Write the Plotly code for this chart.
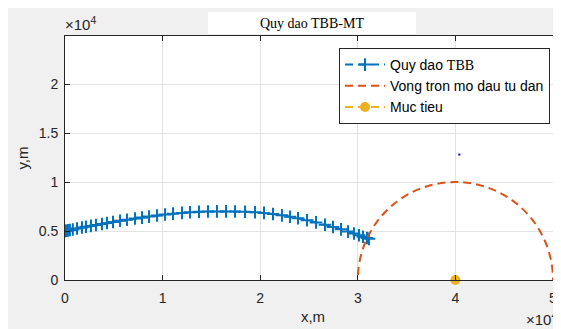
import plotly.graph_objects as go

# Trajectory (m)
traj_x = [0, 100, 300, 500, 800, 1230, 1740, 2150, 2660, 3170, 3790, 4300, 4920, 5640,
          6350, 7170, 7890, 8610, 9430, 10250, 11070, 11990, 12810, 13730, 14650, 15570,
          16500, 17420, 18440, 19470, 20390, 21310, 22230, 23050, 23870, 24800, 25720,
          26640, 27460, 28280, 29000, 29610, 30120, 30530, 30940, 31150]
traj_y = [5000, 5020, 5060, 5100, 5160, 5250, 5350, 5430, 5520, 5610, 5720, 5810, 5920, 6040,
          6150, 6270, 6370, 6470, 6580, 6680, 6770, 6850, 6910, 6960, 6990, 7000,
          7000, 6990, 6960, 6920, 6850, 6740, 6600, 6460, 6300, 6100, 5880,
          5640, 5410, 5170, 4940, 4740, 4570, 4420, 4280, 4200]

circle_center = (40000, 0)
circle_radius = 10000
target = (40000, 0)
stray_point = (40400, 12800)

x_ticks = [0, 10000, 20000, 30000, 40000, 50000]
x_tick_text = ["0", "1", "2", "3", "4", "5"]
y_ticks = [0, 5000, 10000, 15000, 20000]
y_tick_text = ["0", "0.5", "1", "1.5", "2"]

BLUE = "#0072BD"
RED = "#D95319"
YEL = "#EDB120"
AX = "#262626"
FONT = "Liberation Sans, Arial, sans-serif"

fig = go.Figure()
fig.add_trace(go.Scatter(
    x=traj_x, y=traj_y, mode="lines+markers",
    name="Quy dao <span style='font-family:Liberation Serif, Times New Roman, serif'>TBB</span>",
    line=dict(color=BLUE, width=2, dash="8px,5px"),
    marker=dict(symbol="cross-thin", size=9, color=BLUE, line=dict(color=BLUE, width=2)),
))
fig.add_trace(go.Scatter(
    x=[None], y=[None], mode="lines", name="Vong tron mo dau tu dan",
    line=dict(color=RED, width=2, dash="8px,5px"),
))
fig.add_trace(go.Scatter(
    x=[target[0]], y=[target[1]], mode="lines+markers", name="Muc tieu",
    line=dict(color=YEL, width=2, dash="8px,5px"),
    marker=dict(symbol="circle", size=10, color=YEL),
    cliponaxis=False,
))
fig.add_trace(go.Scatter(
    x=[stray_point[0]], y=[stray_point[1]], mode="markers", showlegend=False,
    marker=dict(symbol="square", size=2, color="#0000ff"),
))

cx, cy = circle_center
fig.add_shape(type="circle", xref="x", yref="y",
              x0=cx - circle_radius, y0=cy - circle_radius,
              x1=cx + circle_radius, y1=cy + circle_radius,
              line=dict(color=RED, width=2, dash="8px,5px"))

# window coords of plot area: x 65..561, y 36..280 (figure sits at an 8px page offset)
def px(xp):
    return (xp - 65) / 496.0

def py(yp):
    return (280 - yp) / 244.0

# title box
fig.add_shape(type="rect", xref="paper", yref="paper", x0=px(208), x1=px(416), y0=py(34), y1=py(12),
              fillcolor="white", line=dict(width=0), layer="above")

fig.add_annotation(text="Quy dao TBB-MT", xref="paper", yref="paper", x=px(312), y=py(23),
                   showarrow=False, xanchor="center", yanchor="middle",
                   font=dict(family="Liberation Serif, Times New Roman, serif", size=14, color="black"))
fig.add_annotation(text="×10<sup>4</sup>", xref="paper", yref="paper", x=px(63), y=py(24),
                   showarrow=False, xanchor="left", yanchor="middle",
                   font=dict(family=FONT, size=15, color=AX))
fig.add_annotation(text="×10<sup>4</sup>", xref="paper", yref="paper", x=px(559), y=py(318),
                   showarrow=False, xanchor="right", yanchor="middle",
                   font=dict(family=FONT, size=15, color=AX))

axis_common = dict(showline=True, linecolor=AX, linewidth=1, mirror="ticks",
                   ticks="inside", ticklen=5, tickcolor=AX, tickwidth=1,
                   showgrid=True, gridcolor="#e3e3e3", gridwidth=1, zeroline=False,
                   tickfont=dict(family=FONT, size=14, color=AX))

fig.update_layout(
    width=553, height=321,
    margin=dict(l=57, r=0, t=28, b=49, autoexpand=False),
    paper_bgcolor="#f0f0f0", plot_bgcolor="white",
    font=dict(family=FONT, color=AX),
    xaxis=dict(range=[0, 50820], tickvals=x_ticks, ticktext=x_tick_text,
               ticklabelstandoff=5,
               title=dict(text="x,m", font=dict(family=FONT, size=15, color=AX), standoff=6),
               automargin=False, **axis_common),
    yaxis=dict(range=[0, 24900], tickvals=y_ticks, ticktext=y_tick_text,
               ticklabelstandoff=3,
               title=dict(text="y,m", font=dict(family=FONT, size=15, color=AX), standoff=6),
               automargin=False, **axis_common),
    legend=dict(x=px(339), y=py(48), xanchor="left", yanchor="top",
                bgcolor="white", bordercolor=AX, borderwidth=1,
                font=dict(family=FONT, size=14, color="black"),
                tracegroupgap=0, itemwidth=40),
    showlegend=True,
)

fig.write_html("out.html")
